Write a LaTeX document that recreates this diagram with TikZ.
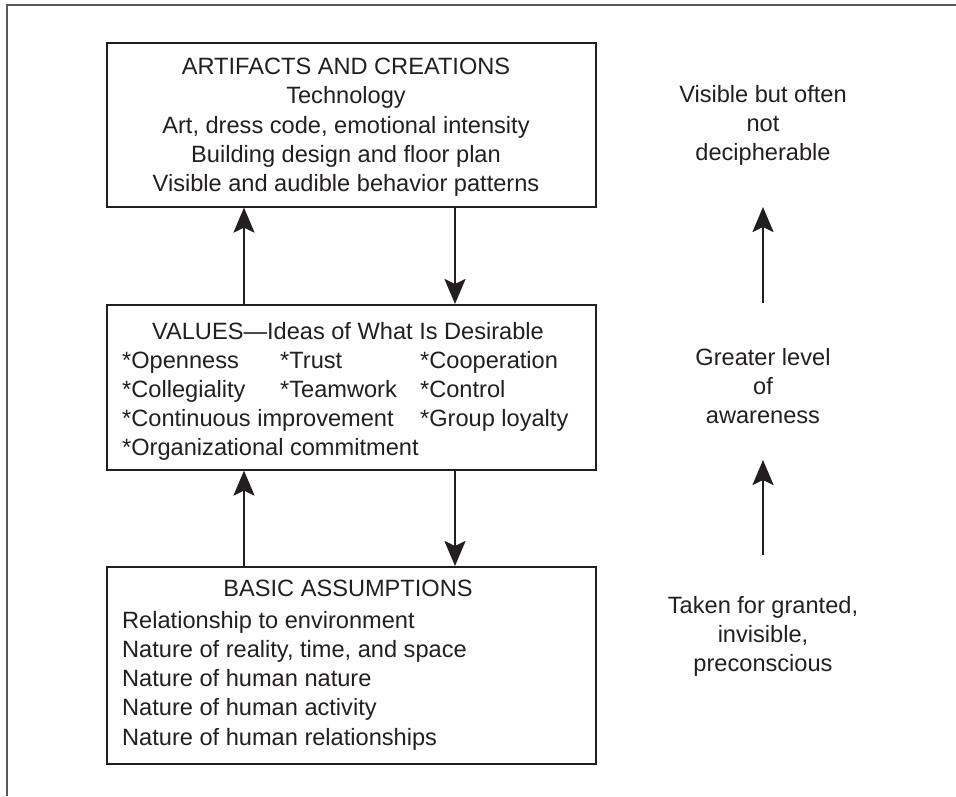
\documentclass[tikz,border=0pt]{standalone}
\usepackage{fontspec}
\setmainfont{Liberation Sans}
\usetikzlibrary{arrows.meta}
\definecolor{ink}{HTML}{231F20}
\definecolor{framec}{HTML}{58595B}
\begin{document}
\begin{tikzpicture}[x=1pt,y=-1pt,
  box/.style={draw=ink, line width=1.6pt, minimum width=489pt, anchor=north west, inner sep=0pt},
  txt/.style={text=ink, font=\fontsize{23.6}{29.2}\selectfont, inner sep=0pt},
  arr/.style={draw=ink, line width=2.5pt, -{Stealth[length=25pt,width=21pt,inset=5pt]}},
]
\useasboundingbox (0,0) rectangle (956,796);
\draw[framec, line width=2pt] (956,5) -- (7,5) -- (7,796);

% boxes
\node[box, minimum height=164pt] (art) at (106,42) {};
\node[box, minimum height=165pt] (val) at (106,304) {};
\node[box, minimum height=197pt] (bas) at (106,566) {};

% box texts
\node[txt, align=center, anchor=north] (artT) at (346,58)
  {ARTIFACTS AND CREATIONS\\Technology\\Art, dress code, emotional intensity\\Building design and floor plan\\Visible and audible behavior patterns};

\node[txt, anchor=base] (valH) at (348,339) {VALUES—Ideas of What Is Desirable};
\node[txt, align=left, anchor=north west] (valB) at (122,351)
  {\makebox[158pt][l]{*Openness}\makebox[140pt][l]{*Trust}*Cooperation\\
   \makebox[158pt][l]{*Collegiality}\makebox[140pt][l]{*Teamwork}*Control\\
   \makebox[298pt][l]{*Continuous improvement}*Group loyalty\\
   *Organizational commitment};

\node[txt, anchor=base] (basH) at (348,596) {BASIC ASSUMPTIONS};
\node[txt, align=left, anchor=north west] (basB) at (122,611)
  {Relationship to environment\\Nature of reality, time, and space\\Nature of human nature\\Nature of human activity\\Nature of human relationships};

% connectors between boxes
\coordinate (xL) at (244,0);
\coordinate (xR) at (455,0);
\draw[arr] (val.north -| xL) -- (art.south -| xL);
\draw[arr] (art.south -| xR) -- (val.north -| xR);
\draw[arr] (bas.north -| xL) -- (val.south -| xL);
\draw[arr] (val.south -| xR) -- (bas.north -| xR);

% right column
\node[txt, align=center, anchor=north] (vis) at (763,85) {Visible but often\\not\\decipherable};
\node[txt, align=center, anchor=north] (gre) at (763,348) {Greater level\\of\\awareness};
\node[txt, align=center, anchor=north] (tak) at (763,596) {Taken for granted,\\invisible,\\preconscious};

\coordinate (r1s) at (763,303);
\coordinate (r1e) at (763,207);
\coordinate (r2s) at (763,555);
\coordinate (r2e) at (763,460);
\draw[arr] (r1s) -- (r1e);
\draw[arr] (r2s) -- (r2e);
\end{tikzpicture}
\end{document}
